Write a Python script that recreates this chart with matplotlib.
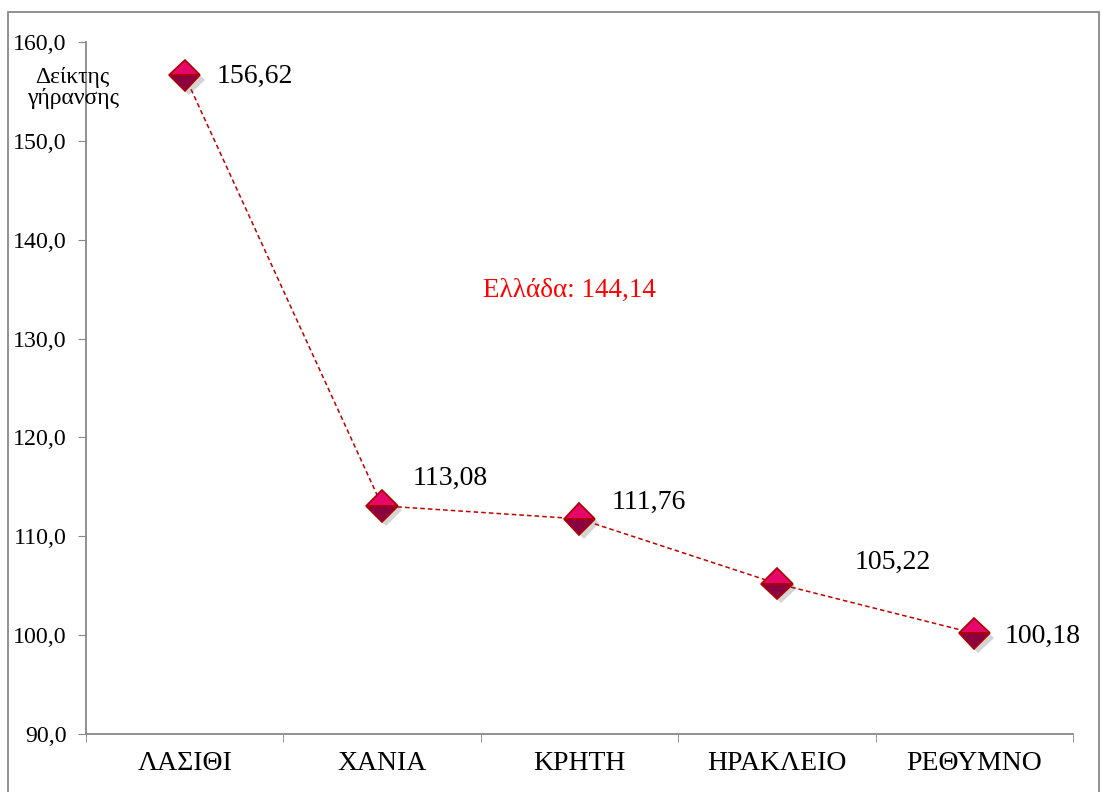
import matplotlib.pyplot as plt
import matplotlib.patheffects as pe
from matplotlib.patches import Rectangle

# Data
regions = ["ΛΑΣΙΘΙ", "ΧΑΝΙΑ", "ΚΡΗΤΗ", "ΗΡΑΚΛΕΙΟ", "ΡΕΘΥΜΝΟ"]
index_vals = [156.62, 113.08, 111.76, 105.22, 100.18]
yticks = [90, 100, 110, 120, 130, 140, 150, 160]
greece_label = "Ελλάδα: 144,14"

plt.rcParams['font.family'] = ['Liberation Serif', 'DejaVu Serif']

fig = plt.figure(figsize=(11.02, 7.92), dpi=100)
ax = fig.add_axes([0.078, 0.0732, 0.8957, 0.8738])

x = list(range(len(regions)))

# dashed connecting line
ax.plot(x, index_vals, linestyle=(0, (3, 2)), color="#c00000", linewidth=1.1, zorder=2)

# markers with a soft shadow
ax.plot(x, index_vals, linestyle='none', marker='D', markersize=16,
        markerfacecolor="#e5086a", markerfacecoloralt="#8a0040", fillstyle='top',
        markeredgecolor="#b00000", markeredgewidth=1.2, zorder=3,
        path_effects=[pe.SimplePatchShadow(offset=(3, -3), alpha=0.25, shadow_rgbFace="#555555"),
                      pe.Normal()])

# data labels (offsets in points from the marker)
offsets = [(23, -1), (22, 20), (23, 12), (56, 15), (22, -2)]
for xi, v, (dx, dy) in zip(x, index_vals, offsets):
    ax.annotate(f"{v:.2f}".replace(".", ","), (xi, v), xytext=(dx, dy),
                textcoords='offset points', ha='left', va='center', fontsize=20)

ax.text(1.95, 134.9, greece_label, color="red", fontsize=19.5, ha='center', va='center')

ax.set_xlim(-0.5, len(regions) - 0.5)
ax.set_ylim(90, 160)
ax.set_yticks(yticks)
ax.set_yticklabels([f"{t:.1f}".replace(".", ",") for t in yticks], fontsize=17.2)
ax.set_xticks(x)
ax.set_xticklabels(regions, fontsize=20)
ax.set_xticks([i - 0.5 for i in range(len(regions) + 1)], minor=True)
ax.tick_params(axis='x', which='major', length=0, pad=12)
ax.tick_params(axis='x', which='minor', length=6, color="#888888")
ax.tick_params(axis='y', length=6, color="#888888", pad=8)

for s in ['top', 'right']:
    ax.spines[s].set_visible(False)
for s in ['left', 'bottom']:
    ax.spines[s].set_color("#888888")
    ax.spines[s].set_linewidth(1.3)

fig.text(0.066, 0.889, "Δείκτης\nγήρανσης", fontsize=17, ha='center', va='center',
         linespacing=1.05, family=['Liberation Serif', 'DejaVu Serif'])

# chart area border
fig.patches.append(Rectangle((8 / 1102, -0.01), 1091 / 1102, 1 - 12 / 792 + 0.01,
                             transform=fig.transFigure, fill=False,
                             edgecolor="#888888", linewidth=1.3))

plt.savefig("out.png", dpi=100)
